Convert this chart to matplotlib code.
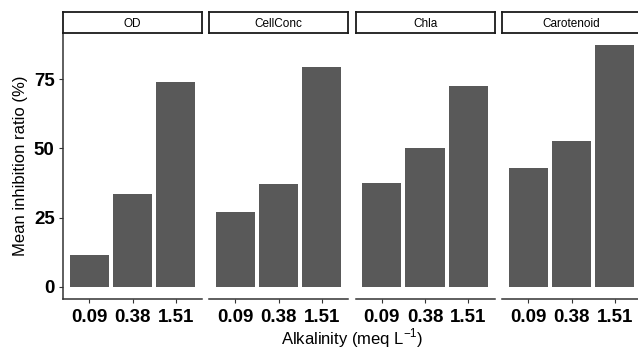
import numpy as np
import matplotlib.pyplot as plt

plt.rcParams['font.family'] = ['Liberation Sans', 'DejaVu Sans']

panels = ['OD', 'CellConc', 'Chla', 'Carotenoid']
alkalinity = ['0.09', '0.38', '1.51']
od = [11.5, 33.6, 73.8]
cellconc = [27.0, 37.1, 79.5]
chla = [37.5, 50.1, 72.4]
carotenoid = [42.8, 52.7, 87.3]
valores = [od, cellconc, chla, carotenoid]

W, H = 638, 351
fig = plt.figure(figsize=(W / 100, H / 100), dpi=100)

ymax = max(max(v) for v in valores)
ylo, yhi = -0.05 * ymax, 1.05 * ymax

lefts = [63, 209, 355.5, 502]
pw = 139
bottom, top = 299, 33
for i, nombre in enumerate(panels):
    ax = fig.add_axes([lefts[i] / W, (H - bottom) / H, pw / W, (bottom - top) / H])
    x = np.arange(len(alkalinity))
    ax.bar(x, valores[i], width=0.9, color='#595959', edgecolor='none')
    ax.set_xlim(-0.6, 2.6)
    ax.set_ylim(ylo, yhi)
    ax.set_xticks(x)
    ax.set_xticklabels(alkalinity, fontsize=13.5, fontweight='bold')
    for s in ['top', 'right']:
        ax.spines[s].set_visible(False)
    ax.spines['bottom'].set_color('#333333')
    ax.spines['bottom'].set_linewidth(1.1)
    ax.tick_params(axis='x', length=3, color='#333333', pad=4, labelcolor='black')
    if i == 0:
        ax.set_yticks([0, 25, 50, 75])
        ax.set_yticklabels(['0', '25', '50', '75'], fontsize=13.5, fontweight='bold')
        ax.spines['left'].set_color('#333333')
        ax.spines['left'].set_linewidth(1.1)
        ax.tick_params(axis='y', length=3, color='#333333', pad=3)
        ax.set_ylabel('Mean inhibition ratio (%)', fontsize=12, labelpad=4)
    else:
        ax.spines['left'].set_visible(False)
        ax.set_yticks([])
    # strip
    strip = fig.add_axes([lefts[i] / W, (H - 33) / H, pw / W, 21 / H])
    strip.set_xticks([])
    strip.set_yticks([])
    for s in strip.spines.values():
        s.set_linewidth(1.3)
        s.set_color('#1a1a1a')
    strip.text(0.5, 0.45, nombre, ha='center', va='center', fontsize=8.5, transform=strip.transAxes)

fig.text(352 / W, 1 - 338 / H, 'Alkalinity (meq L$^{\\mathregular{-1}}$)', ha='center', va='center', fontsize=12)

plt.savefig('out.png', dpi=100)
